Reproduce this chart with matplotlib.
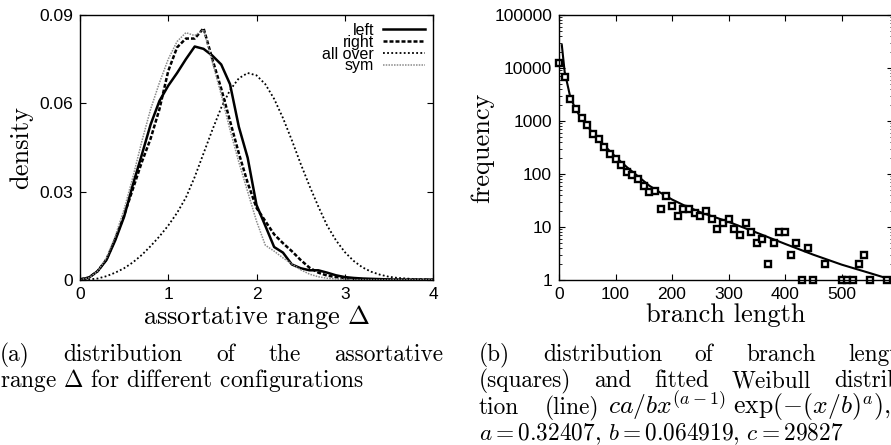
import numpy as np
import matplotlib
matplotlib.use('Agg')
import matplotlib.pyplot as plt
from matplotlib.ticker import LogLocator, NullFormatter, FixedLocator

plt.rcParams['mathtext.fontset'] = 'cm'
plt.rcParams['font.family'] = ['Liberation Sans', 'DejaVu Sans']
plt.rcParams['axes.unicode_minus'] = False

# ---- (a) density of the assortative range ----
delta = [0.0, 0.1, 0.2, 0.3, 0.4, 0.5, 0.6, 0.7, 0.8, 0.9,
         1.0, 1.1, 1.2, 1.3, 1.4, 1.5, 1.6, 1.7, 1.8, 1.9,
         2.0, 2.1, 2.2, 2.3, 2.4, 2.5, 2.6, 2.7, 2.8, 2.9,
         3.0, 3.1, 3.2, 3.3, 3.4, 3.5, 3.6, 3.7, 3.8, 3.9, 4.0]
dens_left = [0.0002, 0.0008, 0.0030, 0.0068, 0.0135, 0.0215, 0.0325, 0.0425, 0.0528, 0.0608,
             0.0660, 0.0703, 0.0750, 0.0793, 0.0785, 0.0762, 0.0732, 0.0665, 0.0520, 0.0415,
             0.0255, 0.0184, 0.0112, 0.0093, 0.0053, 0.0040, 0.0033, 0.0033, 0.0025, 0.0016,
             0.0010, 0.0007, 0.0005, 0.0004, 0.0003, 0.0002, 0.0001, 0.0001, 0.0001, 0.0001, 0.0001]
dens_right = [0.0002, 0.0008, 0.0030, 0.0070, 0.0140, 0.0220, 0.0310, 0.0400, 0.0480, 0.0580,
              0.0710, 0.0790, 0.0820, 0.0820, 0.0855, 0.0750, 0.0650, 0.0540, 0.0430, 0.0330,
              0.0245, 0.0200, 0.0155, 0.0125, 0.0098, 0.0068, 0.0042, 0.0025, 0.0015, 0.0010,
              0.0006, 0.0004, 0.0003, 0.0002, 0.0001, 0.0001, 0.0001, 0.0001, 0.0001, 0.0001, 0.0001]
dens_allover = [0.0000, 0.0002, 0.0005, 0.0013, 0.0025, 0.0040, 0.0060, 0.0085, 0.0115, 0.0148,
                0.0185, 0.0228, 0.0280, 0.0350, 0.0430, 0.0510, 0.0585, 0.0645, 0.0685, 0.0703,
                0.0695, 0.0665, 0.0615, 0.0550, 0.0475, 0.0395, 0.0320, 0.0250, 0.0185, 0.0135,
                0.0095, 0.0065, 0.0043, 0.0028, 0.0018, 0.0011, 0.0007, 0.0005, 0.0003, 0.0002, 0.0001]
dens_sym = [0.0001, 0.0007, 0.0030, 0.0075, 0.0150, 0.0240, 0.0350, 0.0470, 0.0580, 0.0670,
            0.0750, 0.0810, 0.0840, 0.0830, 0.0850, 0.0740, 0.0630, 0.0510, 0.0400, 0.0300,
            0.0200, 0.0118, 0.0098, 0.0075, 0.0055, 0.0035, 0.0020, 0.0011, 0.0006, 0.0004,
            0.0002, 0.0001, 0.0001, 0.0001, 0.0001, 0.0001, 0.0001, 0.0001, 0.0001, 0.0001, 0.0001]

# ---- (b) branch length histogram and Weibull fit ----
branch_len = [0, 10, 20, 30, 40, 50, 60, 70, 80, 90, 100, 110, 120, 130, 140, 150, 160, 170,
              180, 190, 200, 210, 220, 230, 240, 250, 260, 270, 280, 290, 300, 310, 320, 330,
              340, 350, 360, 370, 380, 390, 400, 410, 420, 430, 440, 450, 470, 500, 510, 520,
              530, 540, 550, 580]
branch_freq = [12600, 6650, 2640, 1660, 1120, 840, 575, 450, 330, 240, 190, 150, 110, 95, 81,
               60, 45, 48, 22, 38, 25, 16, 22, 22, 18, 16, 20, 14, 9, 12, 14, 9, 7, 12,
               8, 5, 6, 2, 5, 8, 8, 3, 5, 1, 4, 1, 2, 1, 1, 1,
               2, 3, 1, 1]
fit_x = [5, 10, 20, 30, 40, 50, 60, 70, 80, 90, 100, 120, 140, 160, 180, 200, 220, 250,
         300, 350, 400, 450, 500, 550, 590]
fit_y = [27000, 8500, 2800, 1620, 1110, 800, 590, 450, 345, 270, 210, 135, 90, 60, 44, 33, 26, 19,
         12.5, 7.8, 4.8, 3.0, 1.95, 1.35, 1.0]

W, H = 891, 445
fig = plt.figure(figsize=(W / 100, H / 100), dpi=100)


def px_axes(l, t, r, b):
    return fig.add_axes([l / W, 1 - b / H, (r - l) / W, (b - t) / H])


serif = 'cmr10'
lab_size = 19
cap_size = 16.8
tick_size = 12.5

# panel (a)
ax1 = px_axes(80, 15, 433, 280)
ax1.plot(delta, dens_left, color='black', lw=1.8, label='left')
ax1.plot(delta, dens_right, color='black', lw=1.8, ls=(0, (1.6, 0.8)), label='right')
ax1.plot(delta, dens_allover, color='black', lw=1.3, ls=(0, (1, 1.3)), label='all over')
ax1.plot(delta, dens_sym, color='#8a8a8a', lw=1.1, ls=(0, (1, 0.8)), label='sym')
ax1.set_xlim(0, 4)
ax1.set_ylim(0, 0.09)
ax1.set_xticks([0, 1, 2, 3, 4])
ax1.set_yticks([0, 0.03, 0.06, 0.09])
ax1.set_yticklabels(['0', '0.03', '0.06', '0.09'])
ax1.set_xlabel(r'assortative range $\Delta$', family=serif, fontsize=lab_size, labelpad=1)
ax1.set_ylabel('density', family=serif, fontsize=lab_size, labelpad=4)
leg = ax1.legend(loc='upper right', frameon=False, markerfirst=False, fontsize=11.5,
                 handlelength=2.6, handletextpad=0.6, labelspacing=-0.2,
                 borderaxespad=0.2, borderpad=0.3)

# panel (b)
ax2 = px_axes(559, 15, 892.5, 280)
ax2.set_yscale('log')
ax2.plot(fit_x, fit_y, color='black', lw=1.5)
ax2.plot(branch_len, branch_freq, ls='none', marker='s', ms=5, mfc='white',
         mec='black', mew=1.7, clip_on=False)
ax2.set_xlim(0, 590)
ax2.set_ylim(1, 100000)
ax2.set_xticks([0, 100, 200, 300, 400, 500])
ax2.yaxis.set_major_locator(FixedLocator([1, 10, 100, 1000, 10000, 100000]))
ax2.set_yticklabels(['1', '10', '100', '1000', '10000', '100000'])
ax2.yaxis.set_minor_locator(LogLocator(base=10, subs=np.arange(2, 10)))
ax2.yaxis.set_minor_formatter(NullFormatter())
ax2.set_xlabel('branch length', family=serif, fontsize=lab_size, labelpad=1)
ax2.set_ylabel('frequency', family=serif, fontsize=lab_size, labelpad=0)

for ax in (ax1, ax2):
    ax.tick_params(which='both', direction='in', top=True, right=True,
                   labelsize=tick_size, pad=5)
    ax.tick_params(which='major', length=4, width=0.8)
    ax.tick_params(which='minor', length=2, width=0.6)
    for s in ax.spines.values():
        s.set_linewidth(1.0)

# captions, justified like the LaTeX subfigure captions
renderer = fig.canvas.get_renderer()


def put(word, x, y, size=cap_size):
    return fig.text(x / W, 1 - y / H, word, family=serif, fontsize=size,
                    ha='left', va='baseline')


def justify(words, x0, x1, y):
    items = [put(w, 0, y) for w in words]
    widths = [t.get_window_extent(renderer).width for t in items]
    gap = (x1 - x0 - sum(widths)) / (len(words) - 1)
    x = x0
    for t, w in zip(items, widths):
        t.set_x(x / W)
        x += w + gap


justify(['(a)', 'distribution', 'of', 'the', 'assortative'], 0, 443, 361)
put(r'range $\Delta$ for different configurations', 0, 387)

justify(['(b)', 'distribution', 'of', 'branch', 'lengths'], 479, 921, 361)
justify(['(squares)', 'and', 'fitted', 'Weibull', 'distribu-'], 479, 921, 387)
put('tion', 479, 414)
put('(line)', 545, 414)
put(r'$ca/bx^{(a-1)}\;\exp(-(x/b)^a)$,', 608, 414, size=18.5)
put(r'$a = 0.32407$, $b = 0.064919$, $c = 29827$', 479, 440)

fig.savefig('out.png', dpi=100)
